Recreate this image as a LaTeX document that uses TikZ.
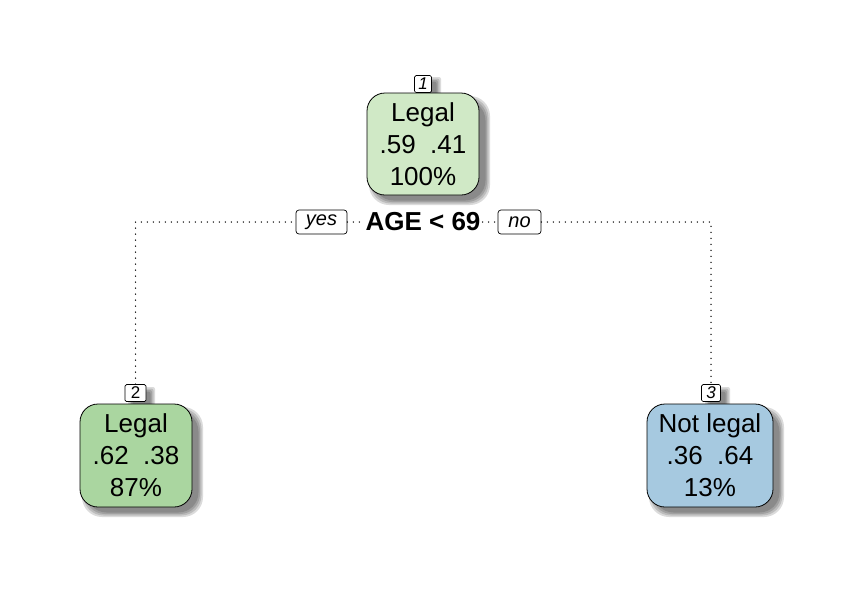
\documentclass[tikz,border=0pt]{standalone}
\usepackage{fontspec}
\setmainfont{Liberation Sans}
\begin{document}
\begin{tikzpicture}[x=1pt,y=-1pt,
  leaf/.style={draw=black, line width=0.8pt, rounded corners=18pt, align=center,
    font=\fontsize{26}{32}\selectfont, inner sep=0pt},
  numbox/.style={draw=black, fill=white, line width=0.7pt, rounded corners=1.5pt,
    font=\fontsize{17}{17}\selectfont\itshape, inner sep=0pt, minimum width=17pt, minimum height=17pt},
  lblbox/.style={draw=black, fill=white, line width=0.7pt, rounded corners=3pt,
    font=\fontsize{20}{20}\selectfont\itshape, inner sep=0pt, minimum height=24pt},
  conn/.style={line width=1.5pt, line cap=round, dash pattern=on 0pt off 6pt}]
\useasboundingbox (0,0) rectangle (862,590);
% colours
\definecolor{rootc}{RGB}{208,233,198}
\definecolor{leftc}{RGB}{170,214,160}
\definecolor{rightc}{RGB}{166,201,224}
% soft shadows
\newcommand{\softshadow}[5]{%
  \foreach \s in {0,1.5,3,4.5}{
    \fill[black, opacity=0.14, rounded corners=#5] (#1+\s,#2+\s) rectangle (#3-\s,#4-\s);
  }}
\softshadow{369}{96}{490}{205}{20pt}
\softshadow{82}{407}{203}{517}{20pt}
\softshadow{649}{407}{784}{517}{20pt}
\softshadow{418}{77}{441}{100}{2pt}
\softshadow{128}{387}{155}{410}{2pt}
\softshadow{705}{387}{730}{410}{2pt}
% split label
\node[font=\fontsize{26}{26}\selectfont\bfseries, fill=white, inner sep=2pt] (split) at (423,222) {AGE < 69};
\node[lblbox, minimum width=51pt] (yes) at (321.5,222) {yes};
\node[lblbox, minimum width=43pt] (no) at (519.5,222) {no};
% numbers
\node[numbox] (n1) at (423,84) {1};
\node[numbox, minimum width=21pt, font=\fontsize{17}{17}\selectfont] (n2) at (135.5,393) {2};
\node[numbox, minimum width=19pt] (n3) at (711,393) {3};
% connectors
\draw[conn] (n2.north) -- (n2.north |- split) -- (yes.west);
\draw[conn] (yes.east) -- (split.west);
\draw[conn] (split.east) -- (no.west);
\draw[conn] (no.east) -- (n3.north |- split) -- (n3.north);
% nodes
\node[leaf, fill=rootc, minimum width=112pt, minimum height=102pt] (root) at (423,144) {Legal\\.59\hspace{0.55em}.41\\100\%};
\node[leaf, fill=leftc, minimum width=112pt, minimum height=103pt] (left) at (136,455.5) {Legal\\.62\hspace{0.55em}.38\\87\%};
\node[leaf, fill=rightc, minimum width=126pt, minimum height=103pt] (right) at (710,455.5) {Not legal\\.36\hspace{0.55em}.64\\13\%};
\end{tikzpicture}
\end{document}
